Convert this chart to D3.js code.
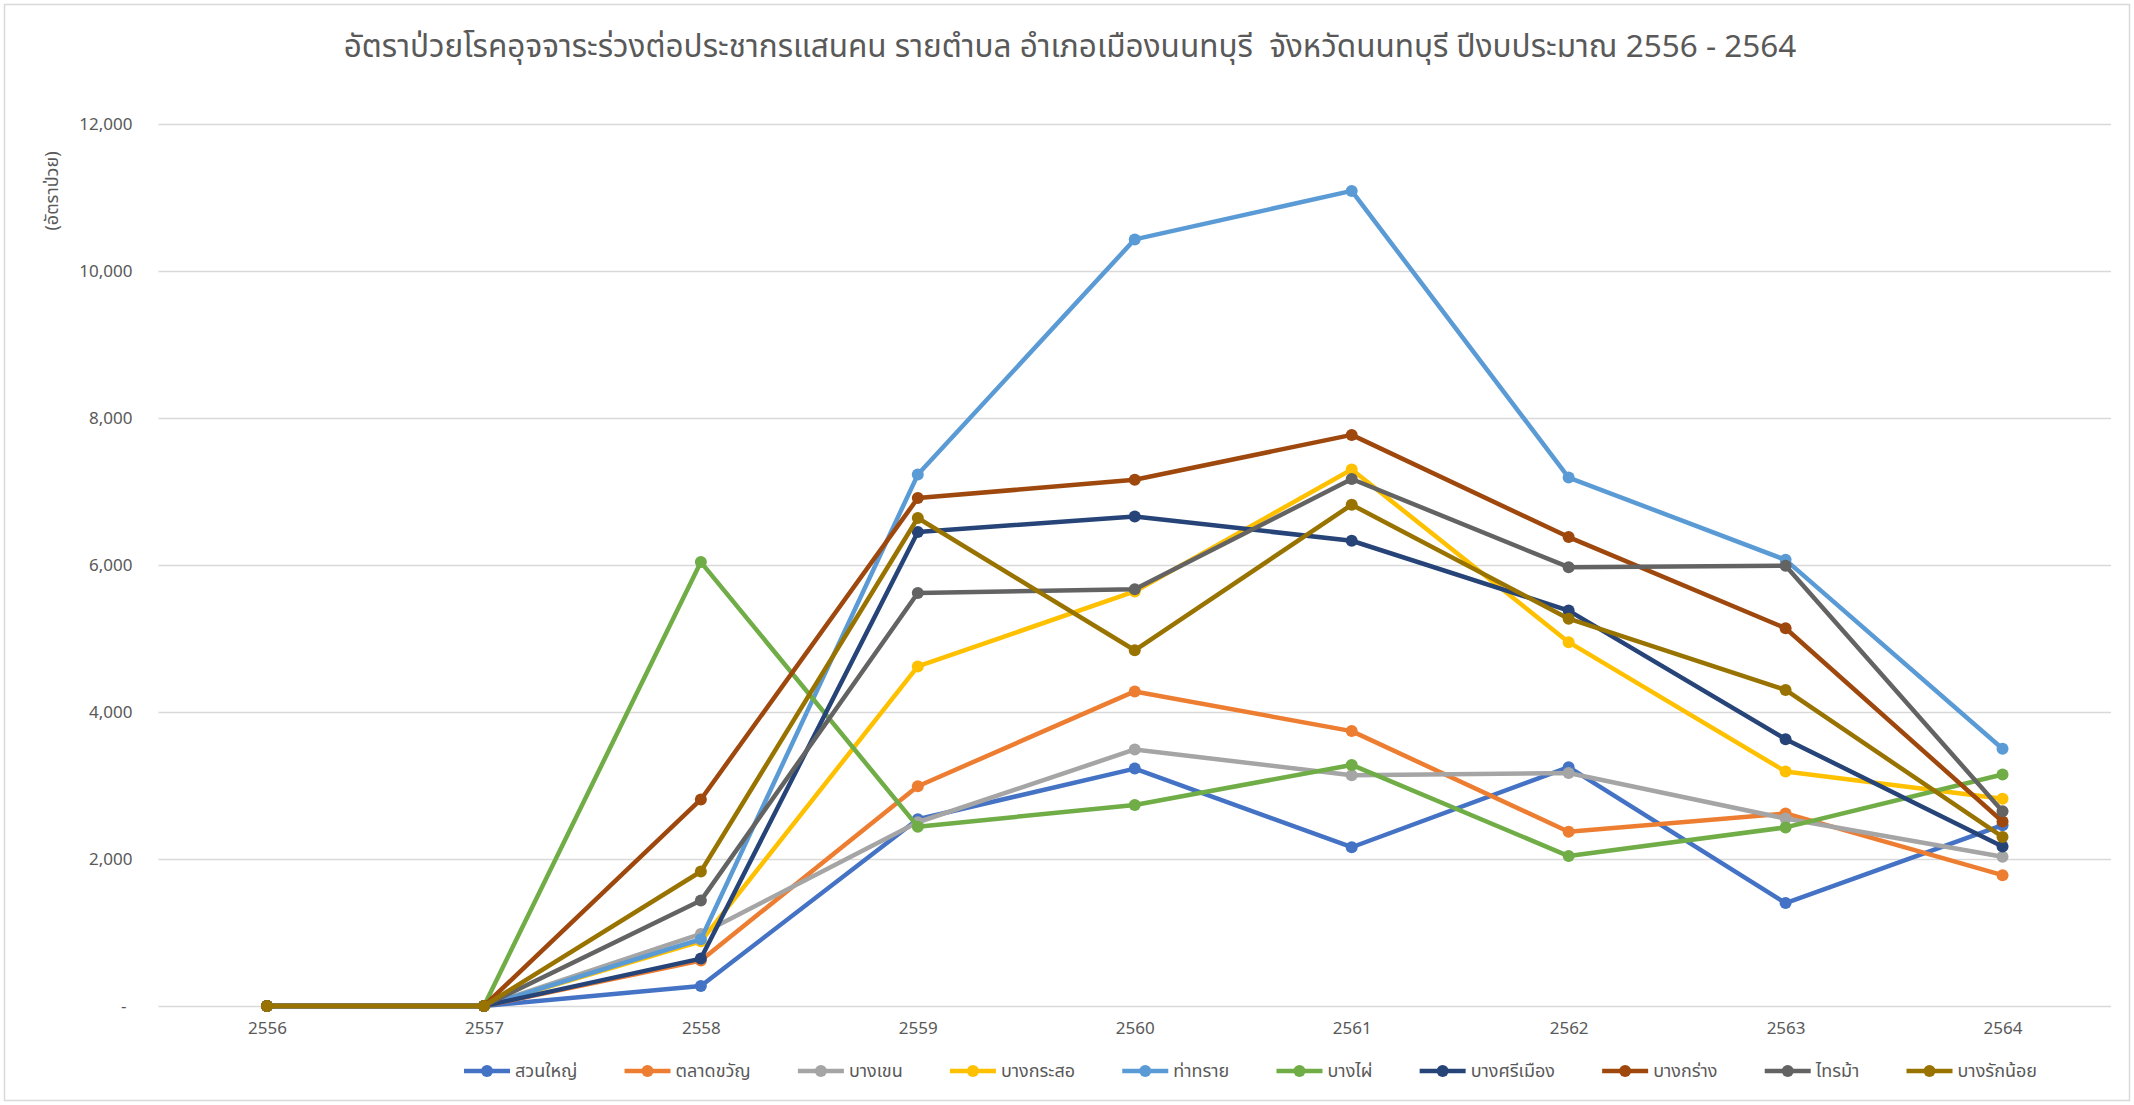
<!DOCTYPE html>
<html><head><meta charset="utf-8">
<script src="https://cdn.jsdelivr.net/npm/d3@7"></script>
<style>body{margin:0;background:#fff}svg{display:block}</style>
</head><body>
<svg id="chart" width="2134" height="1105"></svg>
<script>
// ---- data ----
const years = ["2556","2557","2558","2559","2560","2561","2562","2563","2564"];
const yTickValues = [0,2000,4000,6000,8000,10000,12000];
const yTickLabels = ["-","2,000","4,000","6,000","8,000","10,000","12,000"];
const titleText = "อัตราป่วยโรคอุจจาระร่วงต่อประชากรแสนคน รายตำบล อำเภอเมืองนนทบุรี  จังหวัดนนทบุรี ปีงบประมาณ 2556 - 2564";
const yAxisTitle = "(อัตราป่วย)";
const seriesNames = ["สวนใหญ่","ตลาดขวัญ","บางเขน","บางกระสอ","ท่าทราย","บางไผ่","บางศรีเมือง","บางกร่าง","ไทรม้า","บางรักน้อย"];
const suanYai     = [0,0,272,2540,3230,2160,3250,1400,2460];
const taladKwan   = [0,0,620,2990,4280,3740,2370,2620,1780];
const bangKhen    = [0,0,980,2500,3490,3140,3170,2550,2030];
const bangKraso   = [0,0,880,4620,5640,7300,4950,3190,2820];
const thaSai      = [0,0,908,7230,10430,11090,7190,6070,3500];
const bangPhai    = [0,0,6040,2440,2735,3280,2040,2430,3150];
const bangSiMuang = [0,0,645,6450,6660,6330,5380,3630,2170];
const bangKrang   = [0,0,2810,6910,7160,7770,6380,5140,2510];
const saiMa       = [0,0,1434,5620,5670,7170,5970,5990,2650];
const bangRakNoi  = [0,0,1830,6640,4840,6820,5270,4300,2300];
const seriesValues = [suanYai,taladKwan,bangKhen,bangKraso,thaSai,bangPhai,bangSiMuang,bangKrang,saiMa,bangRakNoi];
const seriesColors = ["#4472C4","#ED7D31","#A5A5A5","#FFC000","#5B9BD5","#70AD47","#264478","#9E480E","#636363","#997300"];

// ---- layout ----
const W = 2134, H = 1105;
const plot = {left:158.5, right:2111, top:124, bottom:1006};
const font = "'Noto Sans Thai','Noto Sans','DejaVu Sans',sans-serif";
const textColor = "#595959";

const svg = d3.select("#chart");
svg.append("rect").attr("x",4.5).attr("y",4.5).attr("width",W-9).attr("height",H-9)
  .attr("fill","#fff").attr("stroke","#D9D9D9").attr("stroke-width",1.5);

const x = d3.scalePoint().domain(years).range([plot.left, plot.right]).padding(0.5);
const y = d3.scaleLinear().domain([0,12000]).range([plot.bottom, plot.top]);

// gridlines
const yAxis = d3.axisLeft(y).tickValues(yTickValues)
  .tickSize(-(plot.right-plot.left))
  .tickFormat((d,i)=>yTickLabels[i]).tickPadding(26);
const gy = svg.append("g").attr("transform",`translate(${plot.left},0)`).call(yAxis);
gy.select(".domain").remove();
gy.selectAll(".tick line").attr("stroke","#D9D9D9").attr("stroke-width",1.5);
gy.selectAll(".tick text").attr("fill",textColor).attr("font-size",17)
  .attr("font-family",font);
gy.selectAll(".tick text").filter(d=>d===0).attr("dx",-6);

// x axis labels
const xAxis = d3.axisBottom(x).tickSize(0).tickPadding(16);
const gx = svg.append("g").attr("transform",`translate(0,${plot.bottom})`).call(xAxis);
gx.select(".domain").remove();
gx.selectAll(".tick text").attr("fill",textColor).attr("font-size",17).attr("font-family",font);

// series
const line = d3.line().x((d,i)=>x(years[i])).y(d=>y(d));
seriesValues.forEach((vals,si)=>{
  const g = svg.append("g");
  g.append("path").datum(vals).attr("d",line).attr("fill","none")
    .attr("stroke",seriesColors[si]).attr("stroke-width",4.5)
    .attr("stroke-linejoin","round").attr("stroke-linecap","round");
  g.selectAll("circle").data(vals).join("circle")
    .attr("cx",(d,i)=>x(years[i])).attr("cy",d=>y(d)).attr("r",6)
    .attr("fill",seriesColors[si]);
});

// title
svg.append("text").attr("x",1070).attr("y",57).attr("text-anchor","middle")
  .style("white-space","pre")
  .attr("font-family",font).attr("font-size",31.5).attr("fill",textColor).text(titleText);

// y axis title
svg.append("text").attr("transform","translate(58,191) rotate(-90)")
  .attr("text-anchor","middle").attr("font-family",font).attr("font-size",18)
  .attr("fill",textColor).text(yAxisTitle);

// legend
const legY = 1071, legStart = 464, legEnd = 2037, markLen = 46, markGap = 5;
const lg = svg.append("g");
const items = seriesNames.map((n,i)=>{
  const it = lg.append("g");
  it.append("line").attr("x1",0).attr("x2",markLen).attr("y1",0).attr("y2",0)
    .attr("stroke",seriesColors[i]).attr("stroke-width",4.5);
  it.append("circle").attr("cx",markLen/2).attr("cy",0).attr("r",6).attr("fill",seriesColors[i]);
  const t = it.append("text").attr("x",markLen+markGap).attr("y",0).attr("dy","0.35em")
    .attr("font-family",font).attr("font-size",18).attr("fill",textColor).text(n);
  return {g:it, w: markLen+markGap+t.node().getComputedTextLength()};
});
const totalW = d3.sum(items,d=>d.w);
const gap = (legEnd-legStart-totalW)/(items.length-1);
let cx = legStart;
items.forEach(it=>{ it.g.attr("transform",`translate(${cx},${legY})`); cx += it.w + gap; });
</script>
</body></html>
